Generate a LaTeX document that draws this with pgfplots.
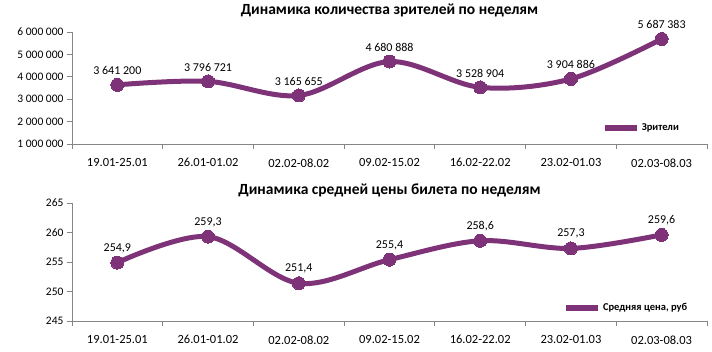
\documentclass[border=0pt]{standalone}
\usepackage{fontspec}
\setmainfont{Carlito}
\usepackage{pgfplots}
\pgfplotsset{compat=1.18}
\definecolor{serie}{RGB}{126,50,120}
\definecolor{axgray}{RGB}{134,134,134}
\pgfplotsset{
  mystyle/.style={
    scale only axis,
    width=635pt,
    xmin=-0.5, xmax=6.5,
    axis x line*=bottom, axis y line*=left,
    axis line style={-,axgray,line width=0.8pt},
    xtick={0,...,6},
    xticklabels={19.01-25.01,26.01-01.02,02.02-08.02,09.02-15.02,16.02-22.02,23.02-01.03,02.03-08.03},
    major x tick style={draw=none},
    minor xtick={-0.5,0.5,...,6.5},
    minor tick length=5pt,
    minor x tick style={axgray,line width=0.8pt},
    major tick length=5pt,
    y tick style={axgray,line width=0.8pt},
    tick align=outside,
    scaled y ticks=false,
    tick label style={font=\fontsize{11.5}{13}\selectfont, text=black},
    xticklabel style={yshift=-6pt, font=\fontsize{12.5}{14}\selectfont},
    /pgf/number format/assume math mode=true,
    clip=false,
    title style={font=\bfseries\fontsize{15.5}{17}\selectfont, at={(0.5,1)}, anchor=center},
    nodes near coords,
    point meta=explicit symbolic,
    every node near coord/.append style={font=\fontsize{12}{14}\selectfont, anchor=south, inner sep=0pt, yshift=10pt, text=black},
    legend style={draw=none, fill=none, font=\bfseries\fontsize{10.5}{12}\selectfont, inner sep=0pt, anchor=west, /tikz/every even column/.append style={column sep=5pt}},
    legend image code/.code={\draw[line width=6pt, serie] (0pt,0pt) -- (32pt,0pt);},
  }
}
\begin{document}
\begin{tikzpicture}
\useasboundingbox (0,0) rectangle (712pt,351pt);
\begin{axis}[mystyle,
  at={(72pt,207pt)}, anchor=south west,
  height=112pt,
  ymin=1000000, ymax=6000000,
  ytick={1000000,2000000,3000000,4000000,5000000,6000000},
  yticklabels={1 000 000,2 000 000,3 000 000,4 000 000,5 000 000,6 000 000},
  title={Динамика количества зрителей по неделям},
  title style={yshift=16pt},
  legend style={at={(0.834,0.143)}},
]
\addplot[serie, line width=5pt, smooth, tension=0.55, mark=*, mark size=6.5pt, mark options={line width=0pt}]
coordinates {
(0,3641200) [3 641 200]
(1,3796721) [3 796 721]
(2,3165655) [3 165 655]
(3,4680888) [4 680 888]
(4,3528904) [3 528 904]
(5,3904886) [3 904 886]
(6,5687383) [5 687 383]
};
\addlegendentry{Зрители}
\end{axis}
\begin{axis}[mystyle,
  at={(72pt,30pt)}, anchor=south west,
  height=118pt,
  ymin=245, ymax=265,
  ytick={245,250,255,260,265},
  yticklabels={245,250,255,260,265},
  title={Динамика средней цены билета по неделям},
  title style={yshift=7pt},
  legend style={at={(0.773,0.11)}},
]
\addplot[serie, line width=5pt, smooth, tension=0.55, mark=*, mark size=6.5pt, mark options={line width=0pt}]
coordinates {
(0,254.9) [254,9]
(1,259.3) [259,3]
(2,251.4) [251,4]
(3,255.4) [255,4]
(4,258.6) [258,6]
(5,257.3) [257,3]
(6,259.6) [259,6]
};
\addlegendentry{Средняя цена, руб}
\end{axis}
\end{tikzpicture}
\end{document}
